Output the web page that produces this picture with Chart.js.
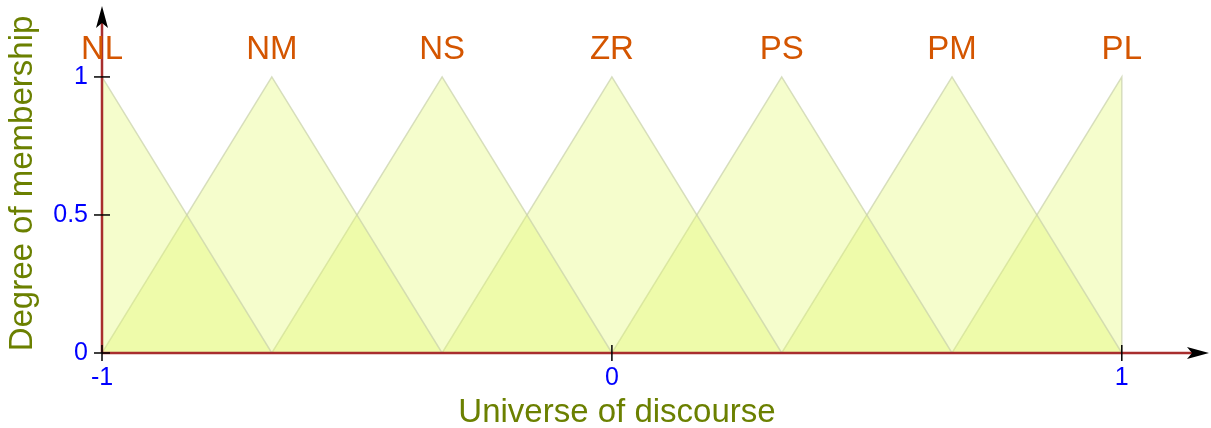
<!DOCTYPE html>
<html>
<head>
<meta charset="utf-8">
<script src="https://cdn.jsdelivr.net/npm/chart.js@4.4.1/dist/chart.umd.min.js"></script>
<style>
  html, body { margin: 0; padding: 0; background: #fff; }
  #wrap { width: 1211px; height: 428px; position: relative; }
</style>
</head>
<body>
<div id="wrap"><canvas id="grafico"></canvas></div>
<script>
// conjuntos difusos: nombre, pie izquierdo, pico, pie derecho
const nombres = ["NL", "NM", "NS", "ZR", "PS", "PM", "PL"];
const picos = [-1, -0.667, -0.333, 0, 0.333, 0.667, 1];
const piesIzq = [-1, -1, -0.667, -0.333, 0, 0.333, 0.667];
const piesDer = [-0.667, -0.333, 0, 0.333, 0.667, 1, 1];
const ticksX = [-1, 0, 1];
const ticksY = [0, 0.5, 1];

const ctx = document.getElementById("grafico");

// cada triangulo como una linea rellenada hasta el eje
const datasets = nombres.map((n, i) => ({
  label: n,
  data: [
    { x: piesIzq[i], y: 0 },
    { x: picos[i], y: 1 },
    { x: piesDer[i], y: 0 }
  ],
  borderColor: "rgba(200,208,170,0.7)",
  borderWidth: 1.5,
  backgroundColor: "rgba(225,248,110,0.35)",
  fill: "origin",
  pointRadius: 0,
  tension: 0
}));

// ejes con flechas, marcas de ticks y nombres de conjuntos
const decoracion = {
  id: "decoracion",
  afterDraw(chart) {
    const c = chart.ctx;
    const a = chart.chartArea;
    const sx = chart.scales.x;
    const sy = chart.scales.y;
    const x0 = sx.getPixelForValue(-1);
    const y0 = sy.getPixelForValue(0);
    const fin = 1195; // el eje x sigue hasta la flecha
    c.save();
    c.strokeStyle = "#a82e2e";
    c.lineWidth = 2.5;
    c.beginPath();
    c.moveTo(x0, y0);
    c.lineTo(fin - 3, y0);
    c.moveTo(x0, y0);
    c.lineTo(x0, a.top + 9);
    c.stroke();
    // flechas
    c.fillStyle = "#000";
    c.beginPath();
    c.moveTo(x0, a.top - 8);
    c.lineTo(x0 - 6, a.top + 14);
    c.lineTo(x0, a.top + 9);
    c.lineTo(x0 + 6, a.top + 14);
    c.closePath();
    c.fill();
    c.beginPath();
    c.moveTo(fin + 14, y0);
    c.lineTo(fin - 8, y0 - 6);
    c.lineTo(fin - 3, y0);
    c.lineTo(fin - 8, y0 + 6);
    c.closePath();
    c.fill();
    // marcas
    c.strokeStyle = "#000";
    c.lineWidth = 1.5;
    ticksY.forEach(v => {
      const y = sy.getPixelForValue(v);
      c.beginPath();
      c.moveTo(x0 - 8, y);
      c.lineTo(x0 + 8, y);
      c.stroke();
    });
    ticksX.forEach(v => {
      const x = sx.getPixelForValue(v);
      c.beginPath();
      c.moveTo(x, y0 - 8);
      c.lineTo(x, y0 + 8);
      c.stroke();
    });
    // nombres
    c.fillStyle = "#d45500";
    c.font = "33px 'Liberation Sans', Arial, sans-serif";
    c.textAlign = "center";
    c.textBaseline = "alphabetic";
    nombres.forEach((n, i) => {
      c.fillText(n, sx.getPixelForValue(picos[i]), sy.getPixelForValue(1) - 18);
    });
    c.restore();
  }
};

new Chart(ctx, {
  type: "line",
  data: { datasets: datasets },
  plugins: [decoracion],
  options: {
    responsive: true,
    maintainAspectRatio: false,
    animation: false,
    layout: { padding: { top: 0, right: 79, left: 0, bottom: 0 } },
    plugins: { legend: { display: false }, tooltip: { enabled: false } },
    scales: {
      x: {
        type: "linear",
        min: -1,
        max: 1.02,
        afterBuildTicks: s => { s.ticks = ticksX.map(v => ({ value: v })); },
        afterFit: s => { s.height = 75; },
        grid: { display: false, drawTicks: false },
        border: { display: false },
        ticks: {
          color: "#0000ff",
          padding: 10,
          maxRotation: 0,
          font: { family: "'Liberation Sans', Arial, sans-serif", size: 25 }
        },
        title: {
          display: true,
          text: "Universe of discourse",
          color: "#6b8000",
          padding: { top: 0, bottom: -5 },
          font: { family: "'Liberation Sans', Arial, sans-serif", size: 33 }
        }
      },
      y: {
        min: 0,
        max: 1.228,
        afterBuildTicks: s => { s.ticks = ticksY.map(v => ({ value: v })); },
        afterFit: s => { s.width = 102; s.paddingTop = 14; s.paddingBottom = 0; },
        grid: { display: false, drawTicks: false },
        border: { display: false },
        ticks: {
          color: "#0000ff",
          padding: 14,
          callback: v => String(v),
          font: { family: "'Liberation Sans', Arial, sans-serif", size: 25 }
        },
        title: {
          display: true,
          text: "Degree of membership",
          color: "#6b8000",
          padding: { top: 3, bottom: 0 },
          font: { family: "'Liberation Sans', Arial, sans-serif", size: 33 }
        }
      }
    }
  }
});
</script>
</body>
</html>
